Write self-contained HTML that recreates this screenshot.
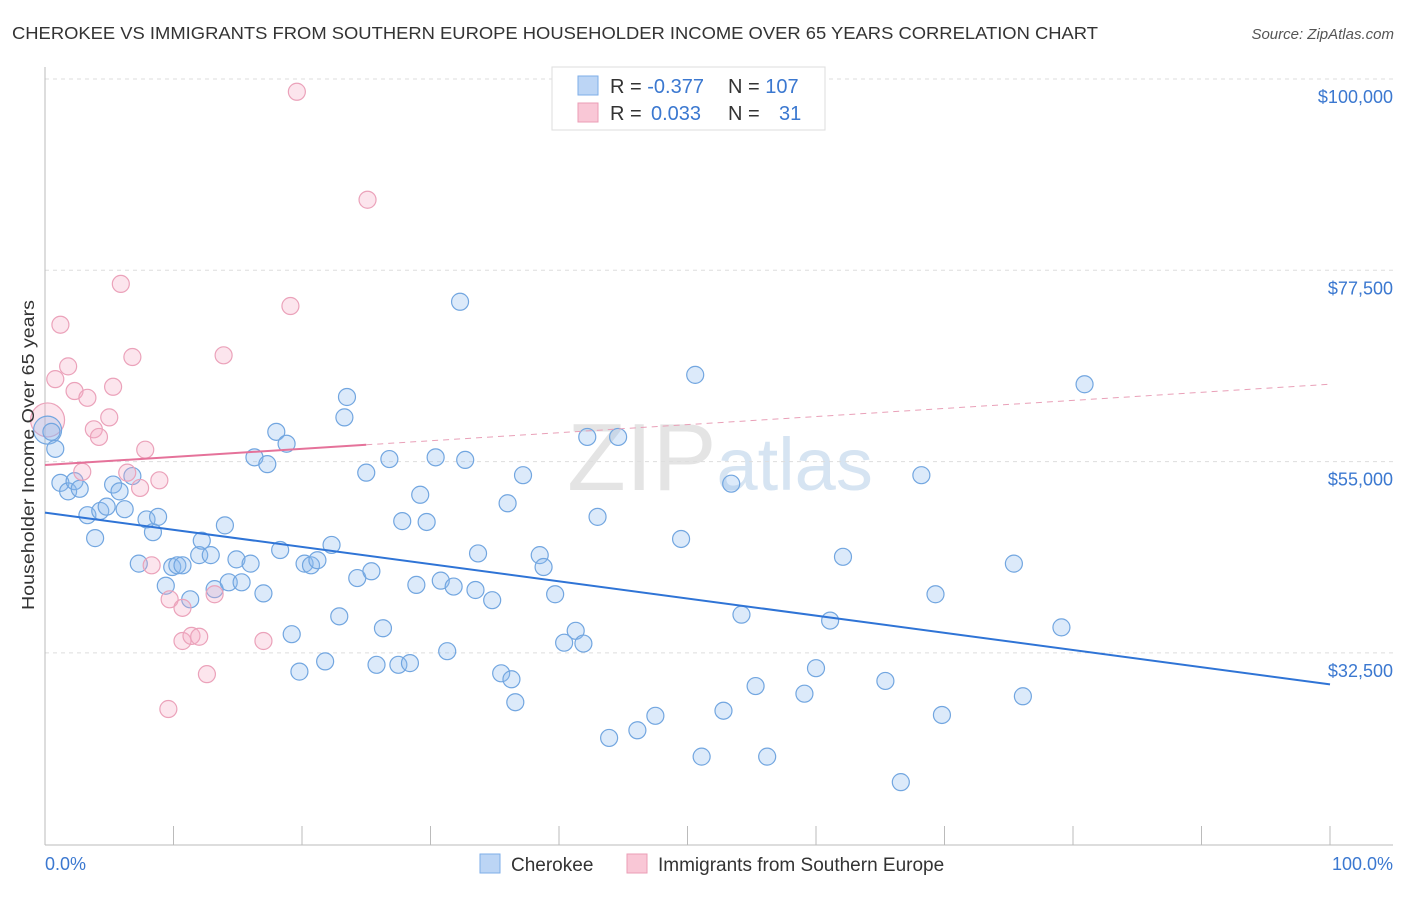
<!DOCTYPE html>
<html><head><meta charset="utf-8"><style>
body{margin:0;background:#fff;font-family:"Liberation Sans",sans-serif;}
svg text{font-family:"Liberation Sans",sans-serif;}
</style></head><body>
<svg id="chart" width="1406" height="892" xmlns="http://www.w3.org/2000/svg">
<text x="12" y="39" font-size="17.5" fill="#333" textLength="1086" lengthAdjust="spacingAndGlyphs">CHEROKEE VS IMMIGRANTS FROM SOUTHERN EUROPE HOUSEHOLDER INCOME OVER 65 YEARS CORRELATION CHART</text>
<text x="1394" y="39" font-size="15" fill="#555" text-anchor="end" font-style="italic">Source: ZipAtlas.com</text>
<text x="720" y="490" font-size="96" fill="#e4e4e4" text-anchor="middle" font-family="Liberation Serif">ZIP<tspan fill="#d6e4f2" font-family="Liberation Sans" font-size="74">atlas</tspan></text>
<g id="grid"></g>
<g id="axes"></g>
<g id="marks"></g>
<text transform="translate(34,455) rotate(-90)" font-size="17.5" fill="#333" text-anchor="middle" textLength="310" lengthAdjust="spacingAndGlyphs">Householder Income Over 65 years</text>
<g>
<rect x="552" y="67" width="273" height="63" fill="#fff" stroke="#ddd"/>
<rect x="578" y="76" width="20" height="19" fill="#bcd5f5" stroke="#7eaee8"/>
<rect x="578" y="103" width="20" height="19" fill="#f9c7d6" stroke="#eb9db6"/>
<text x="610" y="93" font-size="20" fill="#333">R = <tspan fill="#3b78d0">-0.377</tspan><tspan x="728">N = </tspan><tspan fill="#3b78d0">107</tspan></text>
<text x="610" y="120" font-size="20" fill="#333">R = <tspan fill="#3b78d0" x="651">0.033</tspan><tspan x="728">N = </tspan><tspan fill="#3b78d0" x="779">31</tspan></text>
</g>
<g>
<rect x="480" y="854" width="20" height="19" fill="#bcd5f5" stroke="#7eaee8"/>
<text x="511" y="871" font-size="19" fill="#333">Cherokee</text>
<rect x="627" y="854" width="20" height="19" fill="#f9c7d6" stroke="#eb9db6"/>
<text x="658" y="871" font-size="19" fill="#333">Immigrants from Southern Europe</text>
</g>
<text x="45" y="870" font-size="18" fill="#3b78d0">0.0%</text>
<text x="1393" y="870" font-size="18" fill="#3b78d0" text-anchor="end">100.0%</text>
</svg>
<script>
const yTicks=[100000,77500,55000,32500];
const yTickLabels=["$100,000","$77,500","$55,000","$32,500"];
const xTicks=[0,10,20,30,40,50,60,70,80,90,100];
const cherX=[0.5,0.8,1.2,1.8,2.3,2.7,3.3,3.9,4.3,4.8,5.3,5.8,6.2,6.8,7.3,7.9,8.4,8.8,9.4,9.9,10.3,10.7,11.3,12.0,12.2,12.9,13.2,14.0,14.3,14.9,15.3,16.0,16.3,17.0,17.3,18.0,18.3,18.8,19.2,19.8,20.2,20.7,21.2,21.8,22.3,22.9,23.3,23.5,24.3,25.0,25.4,25.8,26.3,26.8,27.5,27.8,28.4,28.9,29.2,29.7,30.4,30.8,31.3,31.8,32.3,32.7,33.5,33.7,34.8,35.5,36.0,36.3,36.6,37.2,38.5,38.8,39.7,40.4,41.3,41.9,42.2,43.0,43.9,44.6,46.1,47.5,49.5,50.6,51.1,52.8,53.4,54.2,55.3,56.2,59.1,60.0,61.1,62.1,65.4,66.6,68.2,69.3,69.8,75.4,76.1,79.1,80.9];
const cherY=[58.5,56.5,52.5,51.5,52.7,51.8,48.7,46.0,49.2,49.7,52.3,51.5,49.4,53.3,43.0,48.2,46.7,48.5,40.4,42.6,42.8,42.8,38.8,44.0,45.7,44.0,40.0,47.5,40.8,43.5,40.8,43.0,55.5,39.5,54.7,58.5,44.6,57.1,34.7,30.3,43.0,42.8,43.4,31.5,45.2,36.8,60.2,62.6,41.3,53.7,42.1,31.1,35.4,55.3,31.1,48.0,31.3,40.5,51.1,47.9,55.5,41.0,32.7,40.3,73.8,55.2,39.9,44.2,38.7,30.1,50.1,29.4,26.7,53.4,44.0,42.6,39.4,33.7,35.1,33.6,57.9,48.5,22.5,57.9,23.4,25.1,45.9,65.2,20.3,25.7,52.4,37.0,28.6,20.3,27.7,30.7,36.3,43.8,29.2,17.3,53.4,39.4,25.2,43.0,27.4,35.5,64.1];
const immX=[0.8,1.2,1.8,2.3,2.9,3.3,3.8,4.2,5.0,5.3,5.9,6.4,6.8,7.4,7.8,8.3,8.9,9.6,9.7,10.7,10.7,11.4,12.0,12.6,13.2,13.9,17.0,19.1,19.6,25.1];
const immY=[64.7,71.1,66.2,63.3,53.8,62.5,58.8,57.9,60.2,63.8,75.9,53.7,67.3,51.9,56.4,42.8,52.8,25.9,38.8,37.8,33.9,34.5,34.4,30.0,39.4,67.5,33.9,73.3,98.5,85.8];
const cherTrend=[49.0,28.8];
const immTrend=[54.6,64.1];
const NS="http://www.w3.org/2000/svg";
const X=p=>45+p*12.85;
const Y=k=>79+(100-k)*191.3/22.5;
function mk(tag,attrs,parent){const e=document.createElementNS(NS,tag);for(const a in attrs)e.setAttribute(a,attrs[a]);parent.appendChild(e);return e;}
const grid=document.getElementById('grid'),axes=document.getElementById('axes'),marks=document.getElementById('marks');
yTicks.forEach((v,i)=>{
 const l=mk('line',{x1:45,x2:1393,y1:Y(v/1000),y2:Y(v/1000),stroke:'#ddd','stroke-dasharray':'4,4'},grid);
 
 
 const t=mk('text',{x:1393,y:Y(v/1000)+24,'font-size':18,fill:'#3b78d0','text-anchor':'end'},grid);
 t.textContent=yTickLabels[i];
 
 
});
const ya=mk('line',{x1:45,x2:45,y1:67,y2:845,stroke:'#bbb'},axes);


const xa=mk('line',{x1:45,x2:1393,y1:845,y2:845,stroke:'#bbb'},axes);


xTicks.forEach(p=>{
 const t=mk('line',{x1:X(p),x2:X(p),y1:826,y2:845,stroke:'#bbb'},axes);
 
 
});
function dot(x,y,r,fill,stroke,name){
 const c=mk('circle',{cx:X(x),cy:Y(y),r:r,fill:fill,stroke:stroke,'stroke-width':1.2},marks);
 
 
}
const bF='rgba(140,185,238,0.3)',bS='#72a6e0',pF='rgba(246,170,196,0.3)',pS='#eba2ba';
dot(0.2,59.9,17,pF,pS,'immigrants-point');
dot(0.2,58.7,14,bF,bS,'cherokee-point');
cherX.forEach((x,i)=>dot(x,cherY[i],8.5,bF,bS,'cherokee-point'));
immX.forEach((x,i)=>dot(x,immY[i],8.5,pF,pS,'immigrants-point'));
const bt=mk('line',{x1:X(0),y1:Y(cherTrend[0]),x2:X(100),y2:Y(cherTrend[1]),stroke:'#2f74d6','stroke-width':2},marks);


const pAt=p=>immTrend[0]+(immTrend[1]-immTrend[0])*p/100;
const pt=mk('line',{x1:X(0),y1:Y(pAt(0)),x2:X(25),y2:Y(pAt(25)),stroke:'#e5729a','stroke-width':2},marks);


const pd=mk('line',{x1:X(25),y1:Y(pAt(25)),x2:X(100),y2:Y(pAt(100)),stroke:'#e9a0b8','stroke-width':1,'stroke-dasharray':'6,5'},marks);


</script>
</body></html>
